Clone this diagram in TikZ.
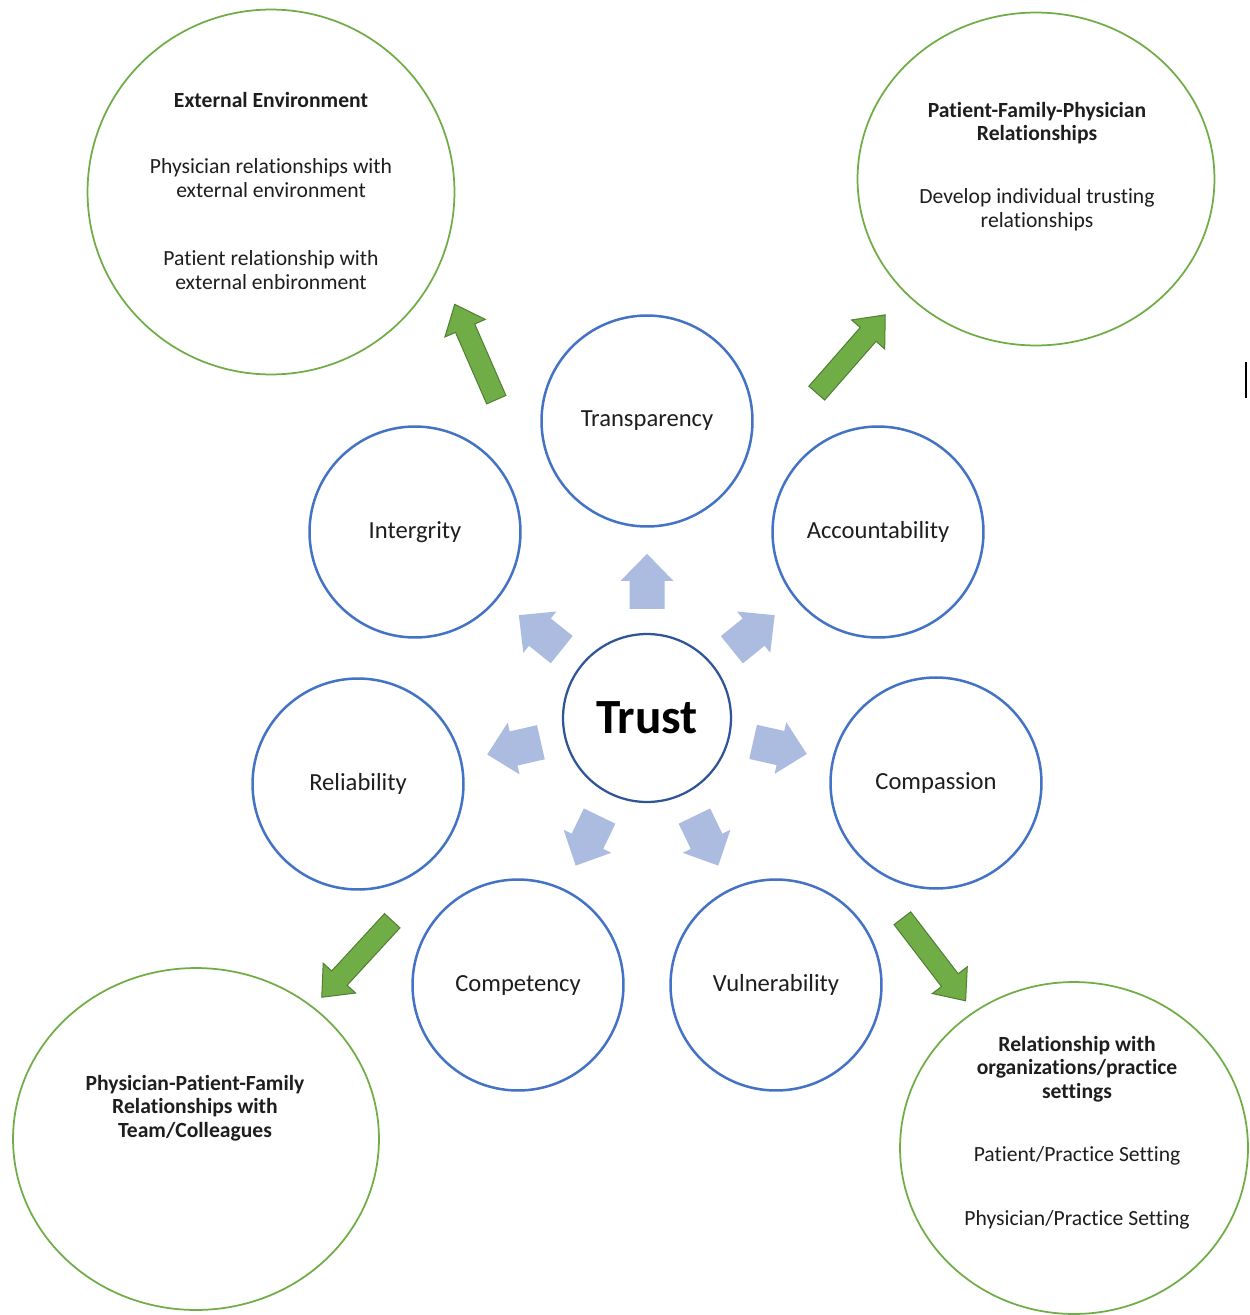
\documentclass[tikz,border=0pt]{standalone}
\usepackage{fontspec}
\setmainfont{Carlito}[Ligatures={NoCommon}]
\usetikzlibrary{shapes.geometric,calc}
\definecolor{circleblue}{RGB}{68,114,196}
\definecolor{trustblue}{RGB}{47,85,151}
\definecolor{arrowblue}{RGB}{172,187,224}
\definecolor{outergreen}{RGB}{112,173,71}
\definecolor{arrowgreen}{RGB}{112,173,71}
\definecolor{arrowgreendark}{RGB}{80,126,50}
\definecolor{textgray}{RGB}{30,30,30}

\begin{document}
\begin{tikzpicture}[
    x=0.02cm, y=-0.02cm,
    value/.style={circle, draw=circleblue, line width=0.05cm, minimum size=4.22cm, inner sep=0pt, font=\fontsize{14}{17}\selectfont, text=textgray},
    core/.style={circle, draw=trustblue, line width=0.045cm, minimum size=3.36cm, inner sep=0pt, font=\fontsize{28}{34}\selectfont\bfseries},
    outer/.style={ellipse, draw=outergreen, line width=0.035cm, inner sep=0pt},
    heading/.style={align=center, inner sep=0pt, font=\fontsize{12.3}{13.4}\selectfont\bfseries, text=textgray},
    detail/.style={align=center, inner sep=0pt, font=\fontsize{12.3}{13.4}\selectfont, text=textgray},
    pics/blockarrow/.style={code={
        \fill[arrowblue] (-27.5,-17.5) -- (0.5,-17.5) -- (0.5,-26.5) -- (27.5,0) -- (0.5,26.5) -- (0.5,17.5) -- (-27.5,17.5) -- cycle;}},
    pics/greenarrow/.style={code={
        \draw[arrowgreendark, fill=arrowgreen, line width=0.02cm, line join=miter] (-52,-10.5) -- (26,-10.5) -- (26,-22) -- (52,0) -- (26,22) -- (26,10.5) -- (-52,10.5) -- cycle;}}
]
\useasboundingbox[fill=white] (0,0) rectangle (1249,1315);

% Core
\node[core] (trust) at (647,718) {Trust};

% Values around the core
\node[value] (transp) at (647,421) {Transparency};
\node[value] (account) at (878,532) {Accountability};
\node[value] (compass) at (936,783) {Compassion};
\node[value] (vulner) at (776,985) {Vulnerability};
\node[value] (compet) at (518,985) {Competency};
\node[value] (reliab) at (358,784) {Reliability};
\node[value] (integ) at (415,532) {Intergrity};

% Arrows - core to values
\path (trust.center) -- (transp.center) pic[pos=0.46, sloped, allow upside down] {blockarrow};
\path (trust.center) -- (account.center) pic[pos=0.46, sloped, allow upside down] {blockarrow};
\path (trust.center) -- (compass.center) pic[pos=0.46, sloped, allow upside down] {blockarrow};
\path (trust.center) -- (vulner.center) pic[pos=0.46, sloped, allow upside down] {blockarrow};
\path (trust.center) -- (compet.center) pic[pos=0.46, sloped, allow upside down] {blockarrow};
\path (trust.center) -- (reliab.center) pic[pos=0.46, sloped, allow upside down] {blockarrow};
\path (trust.center) -- (integ.center) pic[pos=0.46, sloped, allow upside down] {blockarrow};

% Relationship circles
\node[outer, minimum width=7.34cm, minimum height=7.30cm] (extenv) at (271,192) {};
\node[outer, minimum width=7.14cm, minimum height=6.66cm] (pfprel) at (1036,179) {};
\node[outer, minimum width=7.32cm, minimum height=6.84cm] (teamrel) at (196,1139) {};
\node[outer, minimum width=6.96cm, minimum height=6.64cm] (orgrel) at (1074,1148) {};

% Relationship texts
\node[heading] (extenvhead) at (271,100) {External Environment};
\node[detail] (extenvphys) at (271,178) {Physician relationships with\\external environment};
\node[detail] (extenvpat) at (271,270) {Patient relationship with\\external enbironment};

\node[heading] (pfprelhead) at (1037,123) {Patient-Family-Physician\\Relationships};
\node[detail] (pfpreldev) at (1037,210) {Develop individual trusting\\relationships};

\node[heading] (teamrelhead) at (195,1108) {Physician-Patient-Family\\Relationships with\\Team/Colleagues};

\node[heading] (orgrelhead) at (1077,1069) {Relationship with\\organizations/practice\\settings};
\node[detail] (orgrelpat) at (1077,1156) {Patient/Practice Setting};
\node[detail] (orgrelphys) at (1077,1220) {Physician/Practice Setting};

% Arrows - values to relationships
\coordinate (tlfrom) at (496,399);
\coordinate (tlto) at (455,305);
\coordinate (trfrom) at (816,394);
\coordinate (trto) at (886,314);
\coordinate (blfrom) at (392,921);
\coordinate (blto) at (322,997);
\coordinate (brfrom) at (903,919);
\coordinate (brto) at (965,1000);
\path (tlfrom) -- (tlto) pic[midway, sloped, allow upside down] {greenarrow};
\path (trfrom) -- (trto) pic[midway, sloped, allow upside down] {greenarrow};
\path (blfrom) -- (blto) pic[midway, sloped, allow upside down] {greenarrow};
\path (brfrom) -- (brto) pic[midway, sloped, allow upside down] {greenarrow};

% Stray mark at right edge
\draw[line width=0.04cm] (1246,362) -- (1246,398);

\end{tikzpicture}
\end{document}
